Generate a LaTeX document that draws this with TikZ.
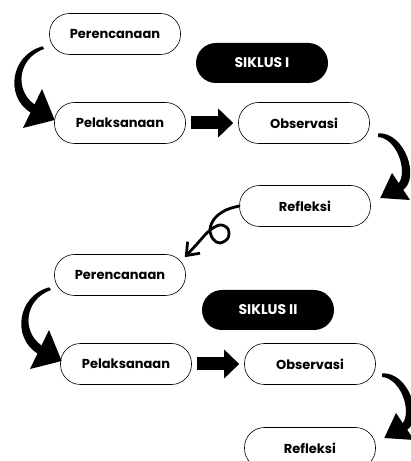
\documentclass[tikz,border=0pt]{standalone}
\usepackage{fontspec}
\setmainfont{Poppins SemiBold}[BoldFont={Poppins Bold}]
\usetikzlibrary{arrows.meta}

\begin{document}
\begin{tikzpicture}[x=1pt, y=1pt,
		tahap/.style={draw, line width=0.6pt, rounded corners=20pt, minimum width=131pt, minimum height=41pt, font=\fontsize{13}{15}\selectfont\bfseries},
		siklus/.style={fill=black, text=white, rounded corners=20pt, minimum width=132pt, minimum height=40pt, font=\fontsize{14}{16}\selectfont\bfseries},
		panah/.style={line width=13pt, -{Triangle[length=15pt, width=28pt]}, shorten <=5pt, shorten >=5pt},
		kait/.style={line width=2.8pt, line cap=round, -{Straight Barb[length=11pt, width=17pt, line width=2.8pt]}}]
		\useasboundingbox ( 0, 0 ) rectangle ( 411, 461 );

		% siklus I
		\node [tahap] (per1) at ( 115, 427 ) {Perencanaan};
		\node [siklus] (sik1) at ( 262, 398 ) {SIKLUS I};
		\node [tahap] (pel1) at ( 120, 338 ) {Pelaksanaan};
		\node [tahap] (obs1) at ( 304, 338 ) {Observasi};
		\node [tahap] (ref1) at ( 305, 255 ) {Refleksi};

		% siklus II
		\node [tahap] (per2) at ( 120, 186 ) {Perencanaan};
		\node [siklus] (sik2) at ( 268, 151 ) {SIKLUS II};
		\node [tahap] (pel2) at ( 126, 97 ) {Pelaksanaan};
		\node [tahap] (obs2) at ( 310, 97 ) {Observasi};
		\node [tahap] (ref2) at ( 310, 13 ) {Refleksi};

		% ujung panah lengkung
		\coordinate (a1) at ([shift={(-6.5,8.5)}]per1.south west);
		\coordinate (b1) at ([shift={(0.5,3)}]pel1.west);
		\coordinate (a2) at ([shift={(8.5,10.5)}]obs1.south east);
		\coordinate (b2) at ([shift={(9.5,8)}]ref1.east);
		\coordinate (a4) at ([shift={(-5,8.5)}]per2.south west);
		\coordinate (b4) at ([shift={(1.5,3)}]pel2.west);
		\coordinate (a5) at ([shift={(6.5,11.5)}]obs2.south east);
		\coordinate (b5) at ([shift={(8.5,10)}]ref2.east);

		% perencanaan -> pelaksanaan ( I )
		\fill (a1) .. controls ( 10, 406 ) and ( 5, 364 ) .. ( 30.5, 348.5 ) -- ( 23, 333 ) -- (b1)
			-- ( 42, 372 ) -- ( 34.5, 356.5 ) .. controls ( 14, 371 ) and ( 18, 403 ) .. ( 44, 412 ) -- cycle;

		% pelaksanaan -> observasi ( I )
		\draw [panah] (pel1.east) -- (obs1.west);

		% observasi -> refleksi ( I )
		\fill (a2) .. controls ( 405, 329 ) and ( 420, 283 ) .. ( 403.2, 271.2 ) -- ( 410, 261 ) -- (b2)
			-- ( 392, 288 ) -- ( 398.8, 277.8 ) .. controls ( 408, 291 ) and ( 396, 323 ) .. ( 378, 324 ) -- cycle;

		% refleksi ( I ) -> perencanaan ( II )
		\draw [kait] plot [smooth, tension=0.6] coordinates {(ref1.west) ( 226, 251 ) ( 215, 243 ) ( 210, 232 ) ( 213, 222 ) ( 220, 218 ) ( 228, 223 ) ( 228, 232 ) ( 220, 236 ) ( 209, 230 ) ( 197, 217 ) ([shift={(-1,-3)}]per2.north east)};

		% perencanaan -> pelaksanaan ( II )
		\fill (a4) .. controls ( 17, 165 ) and ( 12, 123 ) .. ( 37.5, 107.5 ) -- ( 30, 92 ) -- (b4)
			-- ( 49, 131 ) -- ( 41.5, 115.5 ) .. controls ( 21, 130 ) and ( 25, 162 ) .. ( 51, 171 ) -- cycle;

		% pelaksanaan -> observasi ( II )
		\draw [panah] (pel2.east) -- (obs2.west);

		% observasi -> refleksi ( II )
		\fill (a5) .. controls ( 409, 89 ) and ( 424, 43 ) .. ( 407.2, 31.2 ) -- ( 414, 21 ) -- (b5)
			-- ( 396, 48 ) -- ( 402.8, 37.8 ) .. controls ( 412, 51 ) and ( 400, 83 ) .. ( 382, 84 ) -- cycle;
	\end{tikzpicture}
\end{document}
